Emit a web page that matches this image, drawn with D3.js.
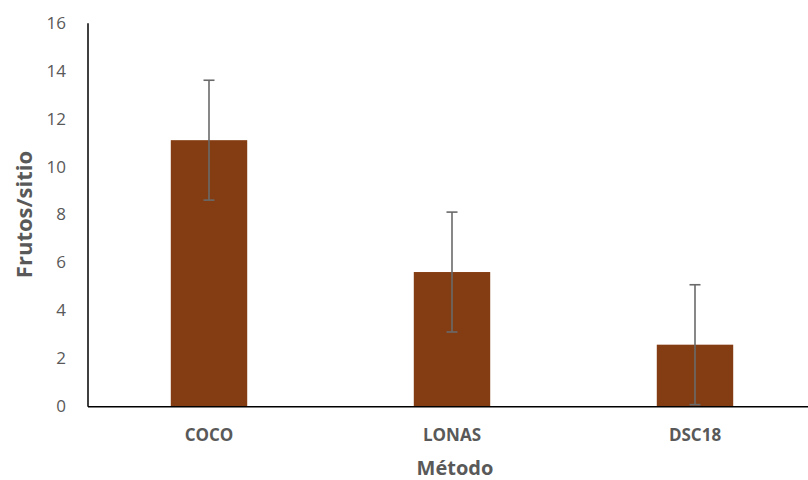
<!DOCTYPE html>
<html><head><meta charset="utf-8">
<script src="https://cdn.jsdelivr.net/npm/d3@7"></script>
<style>body{margin:0;background:#fff}svg{display:block}text{font-family:"Open Sans","Liberation Sans",sans-serif}</style>
</head><body><svg id="c" width="808" height="480"></svg>
<script>
const categories = ["COCO", "LONAS", "DSC18"];
const values = [11.1, 5.6, 2.57];
const errors = [2.5, 2.5, 2.5];
const yTicks = [0, 2, 4, 6, 8, 10, 12, 14, 16];

(function(){
const svg = d3.select("#c");
const mL = 87.5, mR = 816.5, mT = 22.7, mB = 406.3;
const x = d3.scaleBand().domain(categories).range([mL, mR]).padding(0);
const y = d3.scaleLinear().domain([0, 16]).range([mB, mT]);
const bw = x.bandwidth() / 3.18;
const fc = "#595959";

svg.selectAll("rect.bar").data(categories).join("rect")
  .attr("class", "bar")
  .attr("x", d => x(d) + x.bandwidth()/2 - bw/2)
  .attr("y", (d,i) => y(values[i]))
  .attr("width", bw)
  .attr("height", (d,i) => y(0) - y(values[i]))
  .attr("fill", "#843C12");

const eb = svg.append("g").attr("stroke", "#6a6a6a").attr("stroke-width", 1.6);
categories.forEach((c, i) => {
  const cx = x(c) + x.bandwidth()/2;
  const lo = Math.max(0, values[i] - errors[i]), hi = values[i] + errors[i];
  eb.append("line").attr("x1", cx).attr("x2", cx).attr("y1", y(lo)).attr("y2", y(hi));
  eb.append("line").attr("x1", cx-5.5).attr("x2", cx+5.5).attr("y1", y(hi)).attr("y2", y(hi));
  eb.append("line").attr("x1", cx-5.5).attr("x2", cx+5.5).attr("y1", y(lo)).attr("y2", y(lo));
});

const ya = svg.append("g").attr("transform", `translate(${mL},0)`)
  .call(d3.axisLeft(y).tickValues(yTicks).tickSize(0).tickPadding(21.5));
ya.select(".domain").attr("stroke", "#000").attr("stroke-width", 1.5);
ya.selectAll("text").attr("fill", fc).attr("font-size", 17).attr("font-family", "'Open Sans', sans-serif");

const xa = svg.append("g").attr("transform", `translate(0,${mB})`)
  .call(d3.axisBottom(x).tickSize(0));
xa.select(".domain").attr("stroke", "#000").attr("stroke-width", 1.5);
xa.selectAll("text").attr("y", 35).attr("dy", 0).attr("fill", fc).attr("font-size", 17).attr("font-weight", "bold").attr("font-family", "'Open Sans', sans-serif");

svg.append("text").attr("x", 455).attr("y", 475).attr("text-anchor", "middle")
  .attr("fill", fc).attr("font-size", 20).attr("font-weight", "bold").text("Método");
svg.append("text").attr("transform", "translate(32,214.5) rotate(-90)").attr("text-anchor", "middle")
  .attr("fill", fc).attr("font-size", 22).attr("font-weight", "bold").text("Frutos/sitio");
})();
</script></body></html>
